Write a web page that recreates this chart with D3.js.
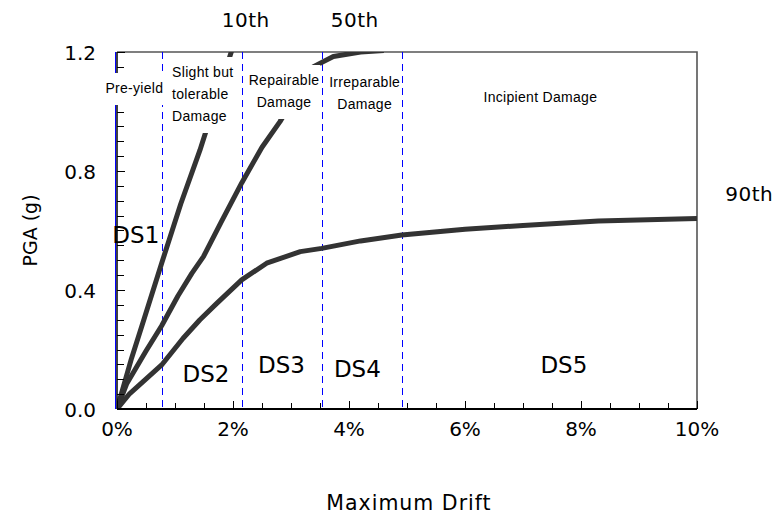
<!DOCTYPE html>
<html>
<head>
<meta charset="utf-8">
<script src="https://cdn.jsdelivr.net/npm/d3@7"></script>
<style>
  html, body { margin: 0; padding: 0; background: #fff; }
  svg { display: block; }
</style>
</head>
<body>
<svg id="chart" width="781" height="520"></svg>
<script>
// Fragility curves: PGA (g) against maximum drift (%), three percentiles
const drift10 = [0, 0.25, 0.43, 0.77, 1.1, 1.43, 1.97, 2.1];
const pga10   = [0, 0.17, 0.28, 0.49, 0.69, 0.87, 1.2, 1.28];

const drift50 = [0, 0.17, 0.5, 0.77, 1.05, 1.29, 1.49, 1.8, 2.15, 2.5, 2.81, 3.1, 3.38, 3.73, 4.2, 4.6];
const pga50   = [0, 0.086, 0.195, 0.28, 0.38, 0.456, 0.512, 0.63, 0.76, 0.88, 0.966, 1.06, 1.15, 1.185, 1.2, 1.205];

const drift90 = [0, 0.22, 0.45, 0.77, 1.14, 1.43, 1.72, 2.15, 2.58, 3.16, 3.53, 4.2, 4.91, 6.0, 7.0, 8.3, 10];
const pga90   = [0, 0.052, 0.092, 0.148, 0.238, 0.30, 0.355, 0.434, 0.49, 0.529, 0.54, 0.565, 0.585, 0.604, 0.617, 0.632, 0.640];

const seriesNames = ["10th", "50th", "90th"];

// Damage-state limits on the drift axis (%)
const stateLimits = [0, 0.77, 2.15, 3.53, 4.91];
const stateNames = ["DS1", "DS2", "DS3", "DS4", "DS5"];
const stateDescriptions = [
  ["Pre-yield"],
  ["Slight but", "tolerable", "Damage"],
  ["Repairable", "Damage"],
  ["Irreparable", "Damage"],
  ["Incipient Damage"]
];

const xTickValues = [0, 2, 4, 6, 8, 10];
const yTickValues = [0, 0.4, 0.8, 1.2];
const xMinorStep = 0.5;
const yMinorStep = 0.05;
const xTitle = "Maximum Drift";
const yTitle = "PGA (g)";

// ---------------------------------------------------------------
const svg = d3.select("#chart");
const W = 781, H = 520;
const m = { left: 117, top: 52, right: 84, bottom: 111 };
const x = d3.scaleLinear().domain([0, 10]).range([m.left, W - m.right]);
const y = d3.scaleLinear().domain([0, 1.2]).range([H - m.bottom, m.top]);

const tickFont = "'DejaVu Sans', sans-serif";
const noteFont = "'Liberation Sans', Arial, sans-serif";

svg.append("defs").append("clipPath").attr("id", "plotClip")
  .append("rect")
  .attr("x", x(0)).attr("y", y(1.2))
  .attr("width", x(10) - x(0)).attr("height", y(0) - y(1.2));

// Frame (top and right edges)
svg.append("path")
  .attr("d", `M${x(0)},${y(1.2)}H${x(10)}V${y(0)}`)
  .attr("fill", "none").attr("stroke", "#555").attr("stroke-width", 1.6);

// Damage-state boundaries
const limitsG = svg.append("g");
stateLimits.slice(1).forEach(d => {
  limitsG.append("line")
    .attr("x1", Math.round(x(d)) + 0.5).attr("x2", Math.round(x(d)) + 0.5)
    .attr("y1", y(1.2)).attr("y2", y(0))
    .attr("stroke", "#0000ff").attr("stroke-width", 1)
    .attr("stroke-dasharray", "7,5");
});

// Curves
const lineGen = d3.line().x(d => x(d[0])).y(d => y(d[1]));
const curves = [
  d3.zip(drift10, pga10),
  d3.zip(drift50, pga50),
  d3.zip(drift90, pga90)
];
const curveG = svg.append("g").attr("clip-path", "url(#plotClip)");
curves.forEach(c => {
  curveG.append("path")
    .datum(c)
    .attr("d", lineGen)
    .attr("fill", "none")
    .attr("stroke", "#333")
    .attr("stroke-width", 5)
    .attr("stroke-linejoin", "round");
});

// Axis lines
svg.append("line")
  .attr("x1", x(0)).attr("x2", x(10)).attr("y1", y(0)).attr("y2", y(0))
  .attr("stroke", "#000").attr("stroke-width", 2);
svg.append("line")
  .attr("x1", x(0)).attr("x2", x(0)).attr("y1", y(1.2)).attr("y2", y(0))
  .attr("stroke", "#000").attr("stroke-width", 1.5);
svg.append("line")
  .attr("x1", x(0) - 1.5).attr("x2", x(0) - 1.5).attr("y1", y(1.2)).attr("y2", y(0))
  .attr("stroke", "#0000ff").attr("stroke-width", 1);

// Inward ticks: minor and major, positioned by the scales
const isMajor = (vals, d) => vals.some(v => Math.abs(v - d) < 1e-9);
const xMinorVals = d3.range(0, 10 + 1e-9, xMinorStep);
const yMinorVals = d3.range(0, 1.2 + 1e-9, yMinorStep);
svg.selectAll("line.xtick").data(xMinorVals).join("line").attr("class", "xtick")
  .attr("x1", d => Math.round(x(d)) + 0.5).attr("x2", d => Math.round(x(d)) + 0.5)
  .attr("y1", y(0))
  .attr("y2", d => y(0) - (isMajor(xTickValues, d) ? 8 : 6))
  .attr("stroke", "#000").attr("stroke-width", 1);
svg.selectAll("line.ytick").data(yMinorVals).join("line").attr("class", "ytick")
  .attr("y1", d => Math.round(y(d)) + 0.5).attr("y2", d => Math.round(y(d)) + 0.5)
  .attr("x1", x(0))
  .attr("x2", d => x(0) + (isMajor(yTickValues, d) ? 8 : 7))
  .attr("stroke", "#000").attr("stroke-width", 1);

// Damage descriptions on white boxes
const descPos = [
  { cx: 0.3, base: 93, anchor: "middle" },
  { cx: 0.95, base: 77, anchor: "start" },
  { cx: 2.88, base: 85, anchor: "middle" },
  { cx: 4.27, base: 87, anchor: "middle" },
  { cx: 7.3, base: 102, anchor: "middle" }
];
stateDescriptions.forEach((lines, i) => {
  const p = descPos[i];
  const g = svg.append("g");
  const rect = g.append("rect").attr("fill", "#fff");
  const t = g.append("text")
    .attr("font-family", noteFont).attr("font-size", 14)
    .attr("letter-spacing", 0.3)
    .attr("text-anchor", p.anchor).attr("fill", "#000");
  lines.forEach((s, j) => {
    t.append("tspan").attr("x", x(p.cx)).attr("y", p.base + j * 22).text(s);
  });
  if (i < 4) {
    const b = t.node().getBBox();
    rect.attr("x", b.x - 1).attr("y", b.y - 7)
      .attr("width", b.width + 2).attr("height", b.height + 16);
  } else {
    rect.remove();
  }
});

// Damage-state names
const dsPos = [[-0.08, 0.558], [1.13, 0.092], [2.43, 0.12], [3.74, 0.106], [7.3, 0.12]];
stateNames.forEach((s, i) => {
  svg.append("text")
    .attr("x", x(dsPos[i][0])).attr("y", y(dsPos[i][1]))
    .attr("font-family", tickFont).attr("font-size", 23)
    .text(s);
});

// Tick labels
xTickValues.forEach(v => {
  svg.append("text")
    .attr("x", x(v)).attr("y", y(0) + 27)
    .attr("text-anchor", "middle")
    .attr("font-family", tickFont).attr("font-size", 20)
    .text(v + "%");
});
yTickValues.forEach(v => {
  svg.append("text")
    .attr("x", x(0) - 21).attr("y", y(v) + 8)
    .attr("text-anchor", "end")
    .attr("font-family", tickFont).attr("font-size", 20)
    .text(d3.format(".1f")(v));
});

// Axis titles
svg.append("text")
  .attr("x", (x(0) + x(10)) / 2 + 2).attr("y", 510)
  .attr("text-anchor", "middle")
  .attr("font-family", tickFont).attr("font-size", 20.5)
  .attr("letter-spacing", 1)
  .text(xTitle);
svg.append("text")
  .attr("transform", `translate(37,${(y(0) + y(1.2)) / 2}) rotate(-90)`)
  .attr("text-anchor", "middle")
  .attr("font-family", tickFont).attr("font-size", 19)
  .text(yTitle);

// Percentile labels
const labelPos = [[2.22, 1.2, -25], [4.1, 1.2, -25], [10.9, 0.64, -18]];
seriesNames.forEach((s, i) => {
  svg.append("text")
    .attr("x", x(labelPos[i][0])).attr("y", y(labelPos[i][1]) + labelPos[i][2])
    .attr("text-anchor", "middle")
    .attr("font-family", tickFont).attr("font-size", 20)
    .attr("letter-spacing", 0.5)
    .text(s);
});
</script>
</body>
</html>
